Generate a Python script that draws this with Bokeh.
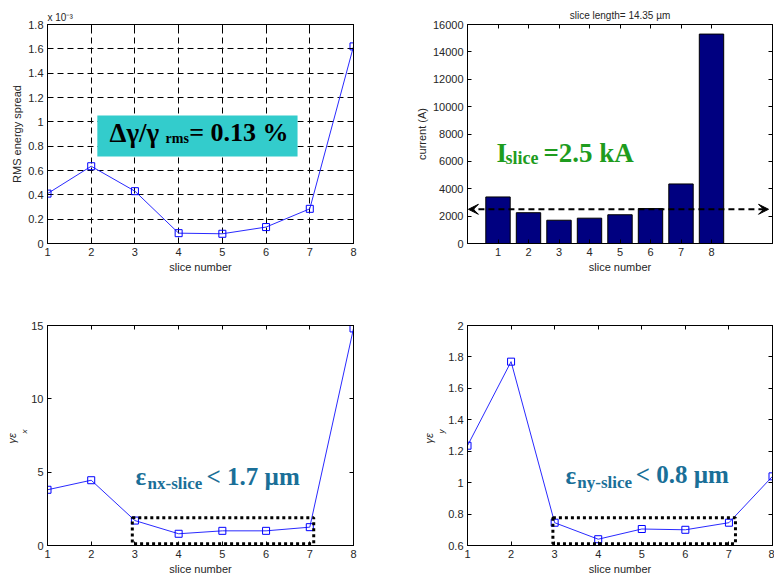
import math
from bokeh.plotting import figure
from bokeh.models import (Range1d, FixedTicker, LinearAxis, Label, BoxAnnotation, Title,
                          Arrow, VeeHead, CustomJSTickFormatter, ColumnDataSource)
from bokeh.layouts import column, row
from bokeh.embed import file_html
from bokeh.resources import INLINE

# ---------------- data ----------------
slices = [1, 2, 3, 4, 5, 6, 7, 8]
rms_spread_e3 = [0.41, 0.635, 0.43, 0.085, 0.08, 0.135, 0.285, 1.62]   # x 10^-3
current_A = [3400, 2250, 1700, 1850, 2100, 2550, 4350, 15300]
emit_x = [3.8, 4.45, 1.7, 0.8, 1.0, 1.0, 1.25, 14.8]
emit_y = [1.235, 1.77, 0.745, 0.64, 0.705, 0.70, 0.745, 1.04]
mean_current = 2500

spread_ticks = [0, 0.2, 0.4, 0.6, 0.8, 1.0, 1.2, 1.4, 1.6, 1.8]
current_ticks = [0, 2000, 4000, 6000, 8000, 10000, 12000, 14000, 16000]
emitx_ticks = [0, 5, 10, 15]
emity_ticks = [0.6, 0.8, 1.0, 1.2, 1.4, 1.6, 1.8, 2.0]

title_text = "slice length= 14.35 \u00b5m"
exponent_text = "x 10\u207b\u00b3"

SANS = "Liberation Sans"
SERIF = "Liberation Serif"
TXT = "#262626"
LINE = "#2a2aff"
TEAL = "#1a6f98"
GREEN = "#1e9c1e"

fmt = CustomJSTickFormatter(code="return String(Math.round(tick*10)/10);")


def make_fig(w, h, xr, yr, bl, br, bt, bb, xticks, yticks, yfmt=None, grid=False):
    p = figure(width=w, height=h, x_range=Range1d(*xr), y_range=Range1d(*yr),
               output_backend="svg", toolbar_location=None,
               min_border_left=bl, min_border_right=br, min_border_top=bt, min_border_bottom=bb)
    p.outline_line_color = "black"
    p.background_fill_color = "white"
    p.border_fill_color = "white"
    p.xaxis.ticker = FixedTicker(ticks=xticks)
    p.yaxis.ticker = FixedTicker(ticks=yticks)
    if yfmt is not None:
        p.yaxis.formatter = yfmt
    for ax in list(p.xaxis) + list(p.yaxis):
        ax.major_tick_in = 4
        ax.major_tick_out = 0
        ax.minor_tick_line_color = None
        ax.axis_line_color = "black"
        ax.major_tick_line_color = "black"
        ax.major_label_text_font = SANS
        ax.major_label_text_font_size = "11px"
        ax.major_label_text_color = TXT
        ax.major_label_standoff = 4
        ax.axis_label_text_font = SANS
        ax.axis_label_text_font_size = "11px"
        ax.axis_label_text_font_style = "normal"
        ax.axis_label_text_color = TXT
        ax.axis_label_standoff = 2
    p.xaxis.axis_label = "slice number"
    for loc, tk in (("above", xticks), ("right", yticks)):
        a = LinearAxis(ticker=FixedTicker(ticks=tk), major_label_text_font_size="0px",
                       major_label_standoff=0, major_tick_in=4, major_tick_out=0,
                       minor_tick_line_color=None, axis_line_color="black",
                       major_tick_line_color="black")
        p.add_layout(a, loc)
    if grid:
        for g in (p.xgrid, p.ygrid):
            g.grid_line_color = "black"
            g.grid_line_dash = "6 4"
            g.grid_line_width = 1
    else:
        p.xgrid.grid_line_color = None
        p.ygrid.grid_line_color = None
    return p


def line_markers(p, x, y):
    src = ColumnDataSource(dict(x=x, y=y))
    p.line("x", "y", source=src, line_color=LINE, line_width=1)
    p.scatter("x", "y", source=src, marker="square", size=7, line_color="#0000ff",
              fill_color=None, line_width=1)


def lab(p, x, y, text, size, color, font=SERIF, style="bold"):
    p.add_layout(Label(x=x, y=y, text=text, text_font=font, text_font_size=size,
                       text_font_style=style, text_color=color, text_baseline="alphabetic"))


def left_title(p, main, sub):
    p.add_layout(Title(text=sub, align="left", offset=112, text_font=SANS,
                       text_font_size="8px", text_font_style="italic", text_color=TXT,
                       standoff=0), "left")
    p.add_layout(Title(text=main, align="left", offset=102, text_font=SANS,
                       text_font_size="11px", text_font_style="italic", text_color=TXT,
                       standoff=0), "left")


# ---------------- top-left: RMS energy spread ----------------
p1 = make_fig(391, 300, (1, 8), (0, 1.8), 47, 38, 24, 57, slices, spread_ticks, fmt, grid=True)
p1.yaxis[0].axis_label = "RMS energy spread"
p1.title = Title(text=exponent_text, align="left", text_font=SANS, text_font_size="10px",
                 text_font_style="normal", text_color=TXT, standoff=4)
line_markers(p1, slices, rms_spread_e3)
p1.add_layout(BoxAnnotation(left=2.14, right=6.72, bottom=0.715, top=1.052,
                            fill_color="#33cccc", fill_alpha=1.0, line_color=None))
lab(p1, 2.418, 0.912, "\u0394\u03b3/\u03b3", "27px", "black")
lab(p1, 3.70, 0.863, "rms", "14px", "black")
lab(p1, 4.24, 0.912, "= 0.13 %", "26px", "black")

# ---------------- top-right: current ----------------
p2 = make_fig(383, 300, (0, 10), (0, 16000), 76, 2, 24, 57, slices, current_ticks)
p2.yaxis[0].axis_label = "current (A)"
p2.title = Title(text=title_text, align="center", text_font=SANS, text_font_size="10px",
                 text_font_style="normal", text_color=TXT, standoff=8)
p2.vbar(x=slices, top=current_A, width=0.8, fill_color="#000080", line_color="black")
head = dict(size=10, fill_color="black", line_color="black")
p2.add_layout(Arrow(start=VeeHead(**head), end=VeeHead(**head), x_start=0.03, y_start=mean_current,
                    x_end=9.87, y_end=mean_current, line_color="black", line_width=2,
                    line_dash="6 4"))
lab(p2, 0.95, 6576, "I", "27px", GREEN)
lab(p2, 1.246, 6211, "slice", "18px", GREEN)
lab(p2, 2.49, 6576, "=2.5 kA", "27px", GREEN)

# ---------------- bottom-left: gamma eps x ----------------
p3 = make_fig(391, 283, (1, 8), (0, 15), 47, 38, 25, 38, slices, emitx_ticks)
left_title(p3, "\u03b3\u03b5", "x")
line_markers(p3, slices, emit_x)
p3.add_layout(BoxAnnotation(left=2.94, right=7.09, bottom=0.12, top=1.89, fill_color=None,
                            line_color="black", line_alpha=1.0, line_width=3, line_dash="3 3"))
lab(p3, 3.013, 4.70, "\u03b5", "25px", TEAL)
lab(p3, 3.288, 4.22, "nx-slice", "17px", TEAL)
lab(p3, 4.638, 4.73, "< 1.7 \u00b5m", "25px", TEAL)

# ---------------- bottom-right: gamma eps y ----------------
p4 = make_fig(383, 283, (1, 8), (0.6, 2.0), 76, 2, 25, 38, slices, emity_ticks, fmt)
left_title(p4, "\u03b3\u03b5", "y")
line_markers(p4, slices, emit_y)
p4.add_layout(BoxAnnotation(left=2.96, right=7.15, bottom=0.611, top=0.776, fill_color=None,
                            line_color="black", line_alpha=1.0, line_width=3, line_dash="3 3"))
lab(p4, 3.25, 1.045, "\u03b5", "25px", TEAL)
lab(p4, 3.52, 1.001, "ny-slice", "17px", TEAL)
lab(p4, 4.86, 1.050, "< 0.8 \u00b5m", "25px", TEAL)

layout = column(row(p1, p2), row(p3, p4))
open("out.html", "w").write(file_html(layout, INLINE))
